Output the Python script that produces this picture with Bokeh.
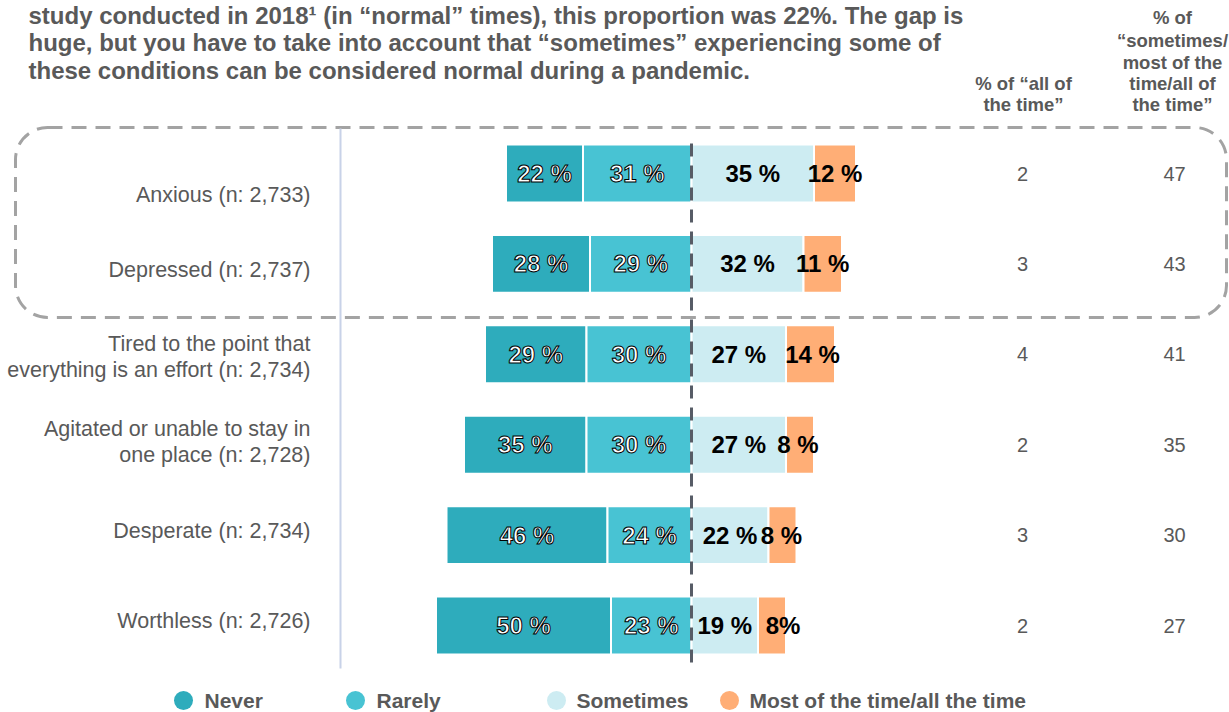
from bokeh.plotting import figure
from bokeh.models import Range1d, BoxAnnotation, ColumnDataSource
from bokeh.core.properties import value
from bokeh.embed import file_html
from bokeh.resources import INLINE

# ---------------- data ----------------
categories = [
    "Anxious (n: 2,733)",
    "Depressed (n: 2,737)",
    "Tired to the point that\neverything is an effort (n: 2,734)",
    "Agitated or unable to stay in\none place (n: 2,728)",
    "Desperate (n: 2,734)",
    "Worthless (n: 2,726)",
]
never = [22, 28, 29, 35, 46, 50]
rarely = [31, 29, 30, 30, 24, 23]
sometimes = [35, 32, 27, 27, 22, 19]
most = [12, 11, 14, 8, 8, 8]
most_labels = ["12 %", "11 %", "14 %", "8 %", "8 %", "8%"]
pct_all_time = [2, 3, 4, 2, 3, 2]
pct_some_most_all = [47, 43, 41, 35, 30, 27]
series_names = ["Never", "Rarely", "Sometimes", "Most of the time/all the time"]
colors = ["#2EACBC", "#48C3D3", "#CDECF2", "#FFAE76"]
header_all = ["% of \u201call of", "the time\u201d"]
header_some = ["% of", "\u201csometimes/", "most of the", "time/all of", "the time\u201d"]
title_lines = [
    "study conducted in 2018\u00b9 (in \u201cnormal\u201d times), this proportion was 22%. The gap is",
    "huge, but you have to take into account that \u201csometimes\u201d experiencing some of",
    "these conditions can be considered normal during a pandemic.",
]

# ---------------- layout helpers (screen px -> data) ----------------
W, H = 1229, 712
X0, PXPCT = 691.0, 3.5      # zero line position, px per percent
Y0, ROWPX = 173.0, 90.4     # first row centre, px per row


def dx(px):
    return (px - X0) / PXPCT


def dy(py):
    return (py - Y0) / ROWPX


FONT = value("Liberation Sans")
GREY = "#595959"

p = figure(width=W, height=H, output_backend="svg", toolbar_location=None,
           x_axis_type=None, y_axis_type=None, min_border=0,
           x_range=Range1d(dx(0), dx(W)), y_range=Range1d(dy(H), dy(0)),
           outline_line_color=None, background_fill_color="white")
p.grid.visible = False
for side in ("left", "right", "top", "bottom"):
    setattr(p, "min_border_" + side, 0)

rows = list(range(len(categories)))

# highlight box
p.add_layout(BoxAnnotation(left=dx(15), right=dx(1226), top=dy(127), bottom=dy(317),
                           fill_color=None, fill_alpha=0, line_color="#A3A3A3",
                           line_alpha=1.0, line_width=3, line_dash="15 9",
                           border_radius=32, level="underlay"))

# category axis line
p.segment(x0=[dx(340)], x1=[dx(340)], y0=[dy(128)], y1=[dy(668)],
          line_color="#C8D2E8", line_width=2)

# ---------------- bars ----------------
left_never = [-(a + b) for a, b in zip(never, rarely)]
left_rarely = [-b for b in rarely]
right_some = sometimes[:]
right_most = [s + m for s, m in zip(sometimes, most)]

segs = [
    (left_never, left_rarely),
    (left_rarely, [0] * len(rows)),
    ([0] * len(rows), right_some),
    (right_some, right_most),
]
for (l, r), c in zip(segs, colors):
    p.hbar(y=rows, left=l, right=r, height=0.64, fill_color=c,
           line_color="white", line_width=2)

# zero line
p.segment(x0=[0], x1=[0], y0=[dy(143)], y1=[dy(668)],
          line_color="#575C66", line_width=3, line_dash="13 9")

# ---------------- bar labels ----------------
dark = ColumnDataSource(dict(
    x=[(a + b) / 2 for a, b in zip(left_never, left_rarely)] + [b / 2 for b in left_rarely],
    y=rows + rows,
    t=[f"{v} %" for v in never] + [f"{v} %" for v in rarely],
))
light = ColumnDataSource(dict(
    x=[s / 2 for s in right_some] + [(a + b) / 2 for a, b in zip(right_some, right_most)],
    y=rows + rows,
    t=[f"{v} %" for v in sometimes] + most_labels,
    xo=[0] * len(rows) + [0, 0, 2, -2, -1, 11],
))
p.text(x="x", y="y", text="t", source=dark, text_font=FONT, text_font_size="24px",
       text_font_style="bold", text_color="white", text_outline_color="black",
       text_align="center", text_baseline="middle")
p.text(x="x", y="y", text="t", source=light, x_offset="xo", text_font=FONT,
       text_font_size="24px", text_font_style="bold", text_color="black",
       text_align="center", text_baseline="middle")

# ---------------- category labels ----------------
p.text(x=[dx(310)] * len(rows), y=rows, text=categories,
       y_offset=[21, 6, 3, -3, -4, -5], text_font=FONT, text_font_size="21.5px",
       text_color=GREY, text_align="right", text_baseline="middle",
       text_line_height=1.1)

# ---------------- right-hand columns ----------------
p.text(x=[dx(1022)] * len(rows), y=rows, text=[str(v) for v in pct_all_time],
       text_font=FONT, text_font_size="20px", text_color=GREY,
       text_align="center", text_baseline="middle")
p.text(x=[dx(1174)] * len(rows), y=rows, text=[str(v) for v in pct_some_most_all],
       text_font=FONT, text_font_size="20px", text_color=GREY,
       text_align="center", text_baseline="middle")

p.text(x=[dx(1023)] * 2, y=[dy(83), dy(104)], text=header_all,
       text_font=FONT, text_font_size="18.5px", text_font_style="bold",
       text_color=GREY, text_align="center", text_baseline="middle")
p.text(x=[dx(1172)] * 5, y=[dy(v) for v in (17, 40, 62, 83, 104)], text=header_some,
       text_font=FONT, text_font_size="18.5px", text_font_style="bold",
       text_color=GREY, text_align="center", text_baseline="middle")

# ---------------- title ----------------
p.text(x=[dx(28)] * 3, y=[dy(v) for v in (15, 42, 70)], text=title_lines,
       text_font=FONT, text_font_size="24px", text_font_style="bold",
       text_color=GREY, text_align="left", text_baseline="middle")

# ---------------- legend ----------------
leg_y = dy(700)
leg_circle_x = [dx(v) for v in (183, 355, 556, 729)]
leg_text_x = [dx(v) for v in (204, 376, 576, 749)]
p.scatter(x=leg_circle_x, y=[leg_y] * 4, size=19, fill_color=colors, line_color=None)
p.text(x=leg_text_x, y=[leg_y] * 4, text=series_names, text_font=FONT,
       text_font_size="21px", text_font_style="bold", text_color=GREY,
       text_align="left", text_baseline="middle")

open("out.html", "w").write(file_html(p, INLINE))
